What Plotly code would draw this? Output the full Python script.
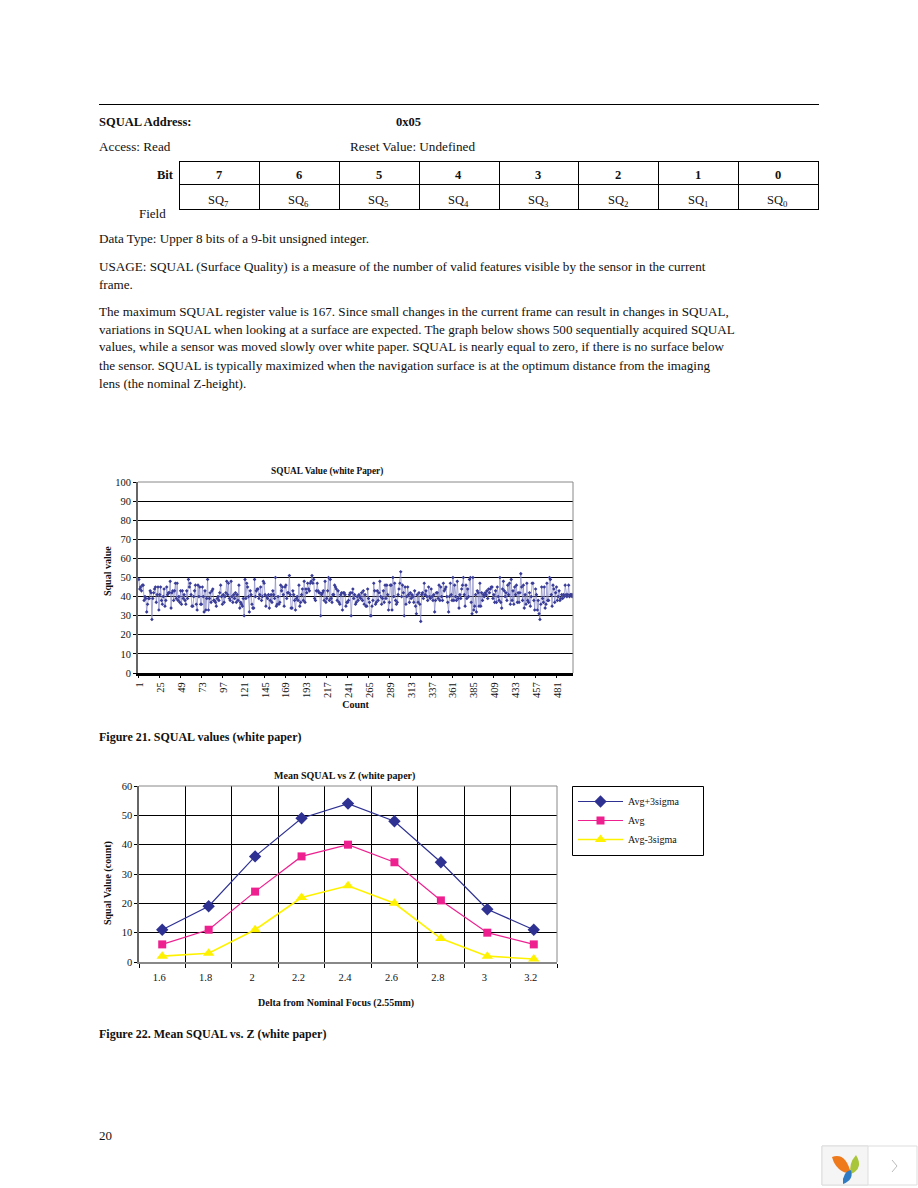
import plotly.graph_objects as go

W, H = 918, 1188
FONT = "Liberation Serif"

# ---------- data ----------
squal_values = [
 49,44,45,43,46,46,38,40,39,32,36,39,39,43,42,28,39,42,44,45,
 37,41,45,33,41,45,38,36,40,44,35,38,45,41,42,42,48,34,42,43,
 38,43,47,39,47,38,40,37,43,36,43,39,41,38,36,43,39,49,45,47,
 41,35,35,40,43,46,36,33,46,40,45,36,36,45,40,32,43,33,39,49,
 33,39,42,37,43,44,38,38,37,35,39,40,38,42,46,40,36,41,37,40,
 42,48,41,47,39,38,48,40,37,41,39,42,37,41,38,46,34,37,36,35,
 39,30,49,39,47,45,40,32,43,41,36,34,34,49,40,43,44,44,39,41,
 45,38,40,48,47,41,35,40,39,41,34,38,41,37,43,41,39,50,35,36,
 40,36,37,46,43,45,41,35,45,46,39,42,42,51,41,34,34,43,41,38,
 33,39,40,38,46,35,37,41,44,38,48,37,44,42,47,44,43,47,48,51,
 47,49,39,38,43,47,43,42,42,30,41,42,43,38,48,37,39,43,50,38,
 49,39,37,41,41,46,45,44,38,43,37,36,41,42,33,42,42,41,35,37,
 37,38,41,42,30,42,44,39,41,36,37,40,38,41,40,39,42,38,43,36,
 41,35,35,44,39,37,30,30,35,38,47,43,36,37,43,38,42,48,40,36,
 39,43,37,46,39,46,41,33,37,46,46,33,50,40,47,38,36,37,41,44,
 47,53,40,46,42,30,45,36,40,45,41,37,42,39,41,40,37,43,35,31,
 41,37,42,36,27,41,42,39,47,41,43,40,38,45,40,39,44,40,38,41,
 32,38,42,42,39,46,38,45,40,38,47,43,44,45,40,37,32,40,47,41,
 38,50,38,46,40,38,48,39,34,41,39,44,46,50,41,35,46,39,44,40,
 49,50,37,31,50,33,35,41,32,43,42,35,47,35,42,38,41,40,42,41,
 43,39,44,42,44,45,45,39,41,37,43,37,45,40,38,50,37,34,44,48,
 43,40,42,38,46,41,47,36,49,38,43,36,45,41,46,37,42,37,42,52,
 45,38,46,34,41,36,47,38,37,42,35,40,47,47,38,33,44,41,33,38,
 31,28,36,45,39,37,45,34,36,47,38,38,50,49,41,35,46,44,37,42,
 45,38,40,43,38,39,41,39,41,40,46,41,40,41,46,40,41,41,40,41,
]
counts = list(range(1, len(squal_values) + 1))
count_ticks = list(range(1, 482, 24))

z_labels = ["1.6", "1.8", "2", "2.2", "2.4", "2.6", "2.8", "3", "3.2"]
avg_plus = [11, 19, 36, 49, 54, 48, 34, 18, 11]
avg = [6, 11, 24, 36, 40, 34, 21, 10, 6]
avg_minus = [2, 3, 11, 22, 26, 20, 8, 2, 1]

bit_labels = ["7", "6", "5", "4", "3", "2", "1", "0"]
field_labels = ["SQ<sub>%s</sub>" % b for b in bit_labels]

body_lines = [
    (239, "Data Type: Upper 8 bits of a 9-bit unsigned integer."),
    (266, "USAGE: SQUAL (Surface Quality) is a measure of the number of valid features visible by the sensor in the current"),
    (284, "frame."),
    (311, "The maximum SQUAL register value is 167. Since small changes in the current frame can result in changes in SQUAL,"),
    (329, "variations in SQUAL when looking at a surface are expected. The graph below shows 500 sequentially acquired SQUAL"),
    (347, "values, while a sensor was moved slowly over white paper. SQUAL is nearly equal to zero, if there is no surface below"),
    (365, "the sensor. SQUAL is typically maximized when the navigation surface is at the optimum distance from the imaging"),
    (383, "lens (the nominal Z-height)."),
]

# ---------- helpers ----------
def px(x): return x / W
def py(y): return 1 - y / H

annotations, shapes = [], []

def text(x, y, s, size=12, anchor="left", color="#111111", angle=0):
    annotations.append(dict(x=px(x), y=py(y), xref="paper", yref="paper", text=s,
                            showarrow=False, xanchor=anchor, yanchor="middle", textangle=angle,
                            borderpad=0, font=dict(family=FONT, size=size, color=color)))

def line(x0, y0, x1, y1, color="black", width=1):
    shapes.append(dict(type="line", xref="paper", yref="paper", x0=px(x0), y0=py(y0),
                       x1=px(x1), y1=py(y1), line=dict(color=color, width=width)))

def rect(x0, y0, x1, y1, fill, color="#dddddd", width=1):
    shapes.append(dict(type="rect", xref="paper", yref="paper", x0=px(x0), y0=py(y0), x1=px(x1), y1=py(y1),
                       fillcolor=fill, line=dict(color=color, width=width)))

def blob(points, fill):
    (x0, y0), (cx1, cy1), (x1, y1), (cx2, cy2) = points
    p = lambda a, b: f"{px(a):.5f},{py(b):.5f}"
    shapes.append(dict(type="path", xref="paper", yref="paper", fillcolor=fill, line=dict(width=0),
                       path=f"M{p(x0,y0)} Q{p(cx1,cy1)} {p(x1,y1)} Q{p(cx2,cy2)} {p(x0,y0)} Z"))

# ---------- page furniture ----------
line(99, 104.5, 819, 104.5, width=1)
text(98, 122, "<b>SQUAL Address:</b>", 12.5)
text(395, 122, "<b>0x05</b>", 12.5)
text(98, 147, "Access: Read", 13.2)
text(349, 147, "Reset Value: Undefined", 13.2)

col_edges = [179.5, 259.5, 339.5, 419.5, 499.5, 578.5, 658.5, 738.5, 818.5]
for e in col_edges:
    line(e, 161, e, 209)
for y in (161.5, 184.5, 209.5):
    line(179, y, 819, y)
for i, (b, f) in enumerate(zip(bit_labels, field_labels)):
    c = (col_edges[i] + col_edges[i + 1]) / 2 - 1
    text(c, 175, f"<b>{b}</b>", 12.5, "center")
    text(c, 201, f, 12.5, "center")
text(175, 175, "<b>Bit</b>", 12.5, "right")
text(138, 213, "Field", 13)

for y, s in body_lines:
    text(98, y, s, 13.13)

text(327, 472, "<b>SQUAL Value (white Paper)</b>", 9.3, "center")
text(344, 776, "<b>Mean SQUAL vs Z (white paper)</b>", 10, "center")
text(107, 571, "<b>Squal value</b>", 10, "center", angle=-90)
text(108, 883, "<b>Squal Value (count)</b>", 10, "center", angle=-90)
text(336, 1003, "<b>Delta from Nominal Focus (2.55mm)</b>", 10, "center")
text(98, 737, "<b>Figure 21. SQUAL values (white paper)</b>", 12)
text(98, 1034, "<b>Figure 22. Mean SQUAL vs. Z (white paper)</b>", 12)
text(98, 1135, "20", 13)

# viewer badge
rect(822, 1146, 917, 1185, "#ffffff")
rect(822, 1146, 868, 1185, "#f5f5f5")
blob([(832, 1157), (846, 1152), (851, 1174), (836, 1172)], "#ee7a1c")
blob([(856, 1155), (864, 1168), (851, 1174), (848, 1164)], "#a9c63a")
blob([(843, 1184), (842, 1172), (851, 1170), (854, 1180)], "#2f7cc4")
line(892, 1160, 897, 1166, "#bbbbbb")
line(897, 1166, 892, 1172, "#bbbbbb")

# grey plot borders
line(138, 482, 573, 482, "#888888")
line(573, 482, 573, 673, "#888888")
line(139, 786, 557, 786, "#888888")
line(557, 786, 557, 962, "#888888")

# legend frame
rect(572.5, 786.5, 703.5, 855.5, "rgba(0,0,0,0)", "black", 1)

# ---------- figure ----------
fig = go.Figure()

fig.add_trace(go.Scatter(
    x=counts, y=squal_values, mode="lines+markers", xaxis="x", yaxis="y", showlegend=False,
    line=dict(color="#8587c4", width=0.7),
    marker=dict(symbol="diamond", size=2.8, color="#3a3d98"),
))

for name, vals, color, sym, size, lw in [
    ("Avg+3sigma", avg_plus, "#2e3192", "diamond", 9.5, 1.2),
    ("Avg", avg, "#ee1f8f", "square", 8, 1.2),
    ("Avg-3sigma", avg_minus, "#fff200", "triangle-up", 10, 1.6),
]:
    fig.add_trace(go.Scatter(
        x=z_labels, y=vals, name=name, mode="lines+markers", xaxis="x2", yaxis="y2",
        line=dict(color=color, width=lw), marker=dict(symbol=sym, size=size, color=color),
    ))

tick_font = dict(family=FONT, size=10.5, color="#111111")
title_font = dict(family=FONT, size=10, color="#111111")

fig.update_layout(
    width=W, height=H, autosize=False, margin=dict(l=0, r=0, t=0, b=0, autoexpand=False),
    paper_bgcolor="white", plot_bgcolor="white",
    font=dict(family=FONT),
    annotations=annotations, shapes=shapes,
    xaxis=dict(domain=[px(138), px(573)], range=[0, 500], anchor="y",
               tickmode="array", tickvals=count_ticks, ticktext=[str(c) for c in count_ticks],
               tickangle=-90, tickfont=tick_font, ticks="outside", ticklen=2, tickcolor="black",
               ticklabelshift=1,
               showgrid=False, zeroline=False, showline=True, linecolor="black", linewidth=3,
               title=dict(text="<b>Count</b>", font=title_font, standoff=5)),
    yaxis=dict(domain=[py(673), py(482)], range=[0, 100], anchor="x", dtick=10,
               tickfont=tick_font, ticks="outside", ticklen=3, tickcolor="black",
               showgrid=True, gridcolor="black", gridwidth=1, zeroline=False,
               showline=True, linecolor="#666666", linewidth=2),
    xaxis2=dict(domain=[px(139), px(557)], range=[-0.5, 8.5], anchor="y2", type="category",
                categoryorder="array", categoryarray=z_labels,
                tickson="boundaries", ticks="outside", ticklen=4, tickcolor="black",
                tickfont=tick_font, ticklabelshift=-3, ticklabelstandoff=5,
                showgrid=True, gridcolor="black", gridwidth=1,
                showline=True, linecolor="#888888", linewidth=1.5, zeroline=False),
    yaxis2=dict(domain=[py(962), py(786)], range=[0, 60], anchor="x2", dtick=10,
                tickfont=tick_font, ticks="outside", ticklen=3, tickcolor="black",
                showgrid=True, gridcolor="black", gridwidth=1, zeroline=False,
                showline=True, linecolor="#666666", linewidth=1.5),
    legend=dict(x=px(573), y=py(787), xanchor="left", yanchor="top", bgcolor="rgba(0,0,0,0)",
                borderwidth=0, font=dict(family=FONT, size=10, color="#111111"),
                itemwidth=45, tracegroupgap=0),
)

fig.write_html("out.html", config={"displayModeBar": False},
               post_script="document.body.style.margin='0';")
